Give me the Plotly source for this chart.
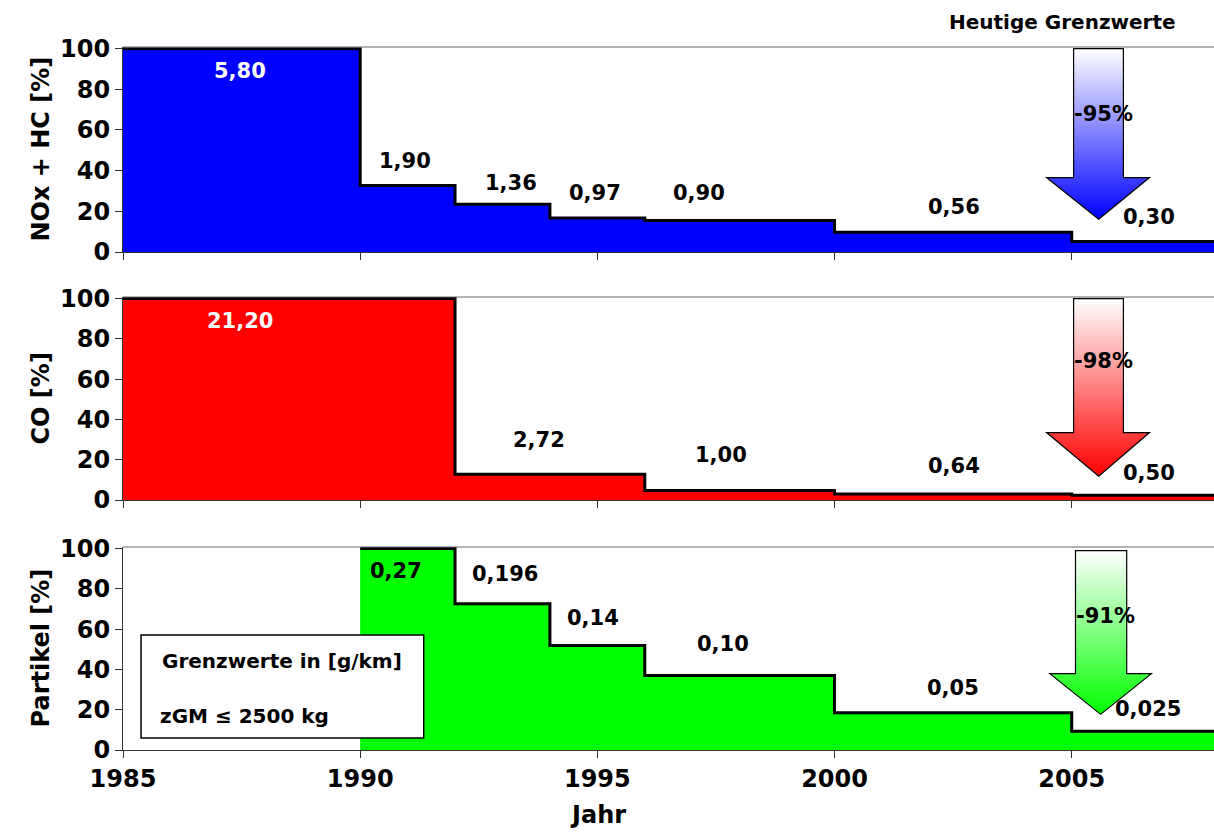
import base64
import plotly.graph_objects as go

# Emission limits for passenger cars (g/km), by year of introduction
years_nox = [1985, 1990, 1992, 1994, 1996, 2000, 2005]
nox = [5.80, 1.90, 1.36, 0.97, 0.90, 0.56, 0.30]

years_co = [1985, 1992, 1996, 2000, 2005]
co = [21.20, 2.72, 1.00, 0.64, 0.50]

years_pm = [1990, 1992, 1994, 1996, 2000, 2005]
pm = [0.27, 0.196, 0.14, 0.10, 0.05, 0.025]

x_start, x_end = 1985, 2008
x_ticks = [1985, 1990, 1995, 2000, 2005]
y_ticks = [0, 20, 40, 60, 80, 100]

# where each value label sits (year, percent)
lab_nox = [(1987.46, 88.8), (1990.94, 44.9), (1993.19, 33.7), (1994.96, 28.8),
           (1997.15, 28.8), (2002.52, 22.0), (2006.62, 17.1)]
lab_co = [(1987.46, 88.7), (1993.78, 29.6), (1997.6, 22.2), (2002.52, 16.7),
          (2006.62, 13.3)]
lab_pm = [(1990.75, 88.7), (1993.06, 87.2), (1994.9, 65.5), (1997.65, 52.7),
          (2002.5, 31.0), (2006.6, 20.2)]

FONT = "DejaVu Sans, Verdana, sans-serif"
W, H = 1214, 832


def pct(vals):
    return [v / vals[0] * 100 for v in vals]


def de_fmt(v):
    s = f"{v:.3f}".rstrip("0")
    whole, frac = s.split(".")
    frac = frac.ljust(2, "0")
    return f"{whole},{frac}"


def py(px):
    return 1 - px / H


panels = [
    dict(name="NOx + HC [%]", years=years_nox, vals=nox, color="#0000ff",
         labels=lab_nox, dom=(py(252), py(47)),
         arrow=dict(x0=2004.47, x1=2006.64, s0=2005.04, s1=2006.09, tip=2005.57,
                    top=100, neck=36.6, bot=16.1, tx=2005.67, ty=67.8)),
    dict(name="CO [%]", years=years_co, vals=co, color="#ff0000",
         labels=lab_co, dom=(py(500), py(297)),
         arrow=dict(x0=2004.47, x1=2006.64, s0=2005.04, s1=2006.09, tip=2005.57,
                    top=100, neck=33.5, bot=11.8, tx=2005.67, ty=69.0)),
    dict(name="Partikel [%]", years=years_pm, vals=pm, color="#00ff00",
         labels=lab_pm, dom=(py(750), py(547)),
         arrow=dict(x0=2004.54, x1=2006.68, s0=2005.08, s1=2006.16, tip=2005.61,
                    top=99.0, neck=37.9, bot=17.7, tx=2005.71, ty=66.5)),
]

fig = go.Figure()
shapes, annotations, images = [], [], []
x_dom = [123 / W, 1.0]
tick_font = dict(family=FONT, size=24, color="black", weight="bold")

for i, p in enumerate(panels, start=1):
    sfx = "" if i == 1 else str(i)
    xref, yref = f"x{sfx}", f"y{sfx}"
    heights = pct(p["vals"])
    xs = p["years"] + [x_end]
    ys = heights + [heights[-1]]
    fig.add_trace(go.Scatter(
        x=xs, y=ys, mode="lines", line=dict(shape="hv", color="black", width=3),
        fill="tozeroy", fillcolor=p["color"], xaxis=xref, yaxis=yref,
        hoverinfo="skip", showlegend=False))

    bottom = i == len(panels)
    fig.layout[f"xaxis{sfx}"] = dict(
        domain=x_dom, range=[x_start, x_end], anchor=yref, automargin=False,
        tickvals=x_ticks, showticklabels=bottom, ticks="outside", ticklen=7,
        tickcolor="#333", showline=True, linecolor="#333", linewidth=1,
        showgrid=False, zeroline=False, tickfont=tick_font,
        matches=None if i == 1 else "x")
    fig.layout[f"yaxis{sfx}"] = dict(
        domain=list(p["dom"]), range=[0, 100.8], anchor=xref, automargin=False,
        tickvals=y_ticks, ticks="outside", ticklen=7, tickcolor="#333",
        showline=True, linecolor="#333", linewidth=1,
        showgrid=False, zeroline=False, tickfont=tick_font)

    # thin frame line along the top of each panel
    shapes.append(dict(type="line", xref=f"{xref} domain", yref=f"{yref} domain",
                       x0=0, x1=1, y0=1, y1=1, line=dict(color="#666", width=1)))

    # y-axis title
    annotations.append(dict(
        text=p["name"], xref="paper", yref="paper", x=40 / W,
        y=(p["dom"][0] + p["dom"][1]) / 2, textangle=-90, showarrow=False,
        xanchor="center", yanchor="middle",
        font=dict(family=FONT, size=24, color="black", weight="bold")))

    # value labels
    for j, (v, (lx, ly)) in enumerate(zip(p["vals"], p["labels"])):
        annotations.append(dict(
            text=de_fmt(v), x=lx, y=ly, xref=xref, yref=yref, showarrow=False,
            xanchor="center", yanchor="middle",
            font=dict(family=FONT, size=21, weight="bold",
                      color="white" if (j == 0 and i < 3) else "black")))

    # reduction arrow with a white-to-colour gradient
    a = p["arrow"]
    wd, ht = a["x1"] - a["x0"], a["top"] - a["bot"]
    nx = lambda x: (x - a["x0"]) / wd * 100
    ny = lambda y: (a["top"] - y) / ht * 100
    pts = [(a["s0"], a["top"]), (a["s1"], a["top"]), (a["s1"], a["neck"]),
           (a["x1"], a["neck"]), (a["tip"], a["bot"]), (a["x0"], a["neck"]),
           (a["s0"], a["neck"])]
    poly = " ".join(f"{nx(x):.2f},{ny(y):.2f}" for x, y in pts)
    svg = ("<svg xmlns='http://www.w3.org/2000/svg' viewBox='0 0 100 100' "
           "preserveAspectRatio='none' width='100' height='100'>"
           "<defs><linearGradient id='g' x1='0' y1='0' x2='0' y2='1'>"
           "<stop offset='0' stop-color='#ffffff'/>"
           f"<stop offset='1' stop-color='{p['color']}'/>"
           "</linearGradient></defs>"
           f"<polygon points='{poly}' fill='url(#g)'/></svg>")
    src = "data:image/svg+xml;base64," + base64.b64encode(svg.encode()).decode()
    images.append(dict(source=src, xref=xref, yref=yref, x=a["x0"], y=a["top"],
                       sizex=wd, sizey=ht, sizing="stretch", xanchor="left",
                       yanchor="top", layer="above"))
    path = "M " + " L ".join(f"{x},{y}" for x, y in pts) + " Z"
    shapes.append(dict(type="path", xref=xref, yref=yref, path=path,
                       line=dict(color="black", width=1.2), fillcolor="rgba(0,0,0,0)"))
    red = round((p["vals"][-1] / p["vals"][0] - 1) * 100)
    annotations.append(dict(
        text=f"{red}%", x=a["tx"], y=a["ty"], xref=xref, yref=yref,
        showarrow=False, xanchor="center", yanchor="middle",
        font=dict(family=FONT, size=21, color="black", weight="bold")))

# info box in the particle panel
shapes.append(dict(type="rect", xref="x3", yref="y3", x0=1985.38, x1=1991.34,
                   y0=5.9, y1=57.1, fillcolor="white",
                   line=dict(color="black", width=1.5)))
annotations.append(dict(text="Grenzwerte in [g/km]", xref="x3", yref="y3",
                        x=1985.78, y=44.3, xanchor="left", yanchor="middle",
                        showarrow=False,
                        font=dict(family=FONT, size=20, color="black", weight="bold")))
annotations.append(dict(text="zGM ≤ 2500 kg", xref="x3", yref="y3",
                        x=1985.74, y=16.7, xanchor="left", yanchor="middle",
                        showarrow=False,
                        font=dict(family=FONT, size=20, color="black", weight="bold")))

annotations.append(dict(text="Heutige Grenzwerte", xref="paper", yref="paper",
                        x=1062 / W, y=py(22), xanchor="center", yanchor="middle",
                        showarrow=False,
                        font=dict(family=FONT, size=20, color="black", weight="bold")))
annotations.append(dict(text="Jahr", xref="paper", yref="paper",
                        x=598 / W, y=py(815), xanchor="center", yanchor="middle",
                        showarrow=False,
                        font=dict(family=FONT, size=24, color="black", weight="bold")))

fig.update_layout(
    width=W, height=H, margin=dict(l=0, r=0, t=0, b=0),
    paper_bgcolor="white", plot_bgcolor="white",
    shapes=shapes, annotations=annotations, images=images,
    font=dict(family=FONT, color="black"),
)

fig.write_html("out.html")
